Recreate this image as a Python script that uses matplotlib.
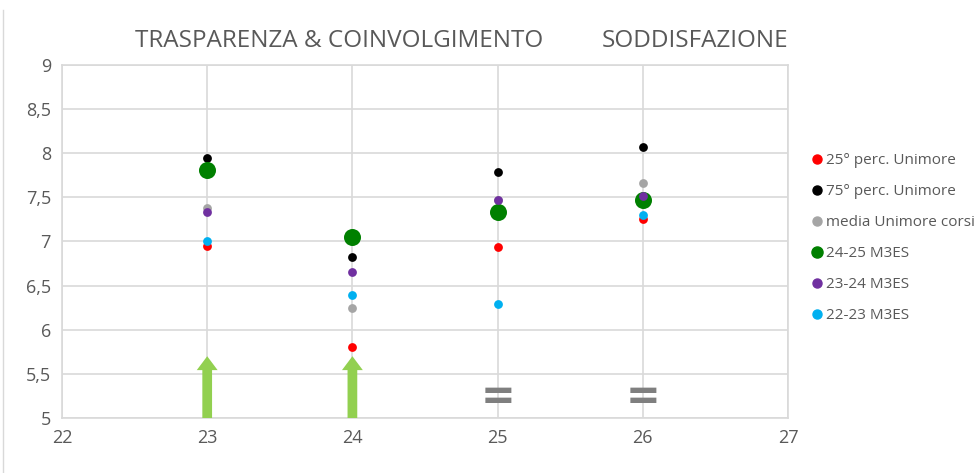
import matplotlib.pyplot as plt
from matplotlib.patches import FancyArrowPatch, ArrowStyle
from matplotlib.lines import Line2D

# data
x_vals = [23, 24, 25, 26]
p25 = [6.95, 5.81, 6.94, 7.25]
p75 = [7.95, 6.82, 7.79, 8.07]
media = [7.38, 6.25, 7.47, 7.66]
m3es_2425 = [7.81, 7.05, 7.33, 7.47]
m3es_2324 = [7.33, 6.65, 7.47, 7.52]
m3es_2223 = [7.00, 6.39, 6.29, 7.30]

labels = ['25° perc. Unimore', '75° perc. Unimore', 'media Unimore corsi',
          '24-25 M3ES', '23-24 M3ES', '22-23 M3ES']
colors = ['#ff0000', '#000000', '#a5a5a5', '#008000', '#7030a0', '#00b0f0']
sizes = [40, 40, 40, 150, 40, 40]

up_x = [23, 24]        # green arrows (improvement)
eq_x = [25, 26]        # "=" marks (stable)

text_col = '#595959'
grid_col = '#d9d9d9'

plt.rcParams['font.family'] = ['Open Sans', 'DejaVu Sans']

fig = plt.figure(figsize=(9.75, 4.73), dpi=100)
ax = fig.add_axes([62 / 975, 55 / 473, 726 / 975, 353 / 473])

series = [p25, p75, media, m3es_2425, m3es_2324, m3es_2223]
for vals, lab, c, s in zip(series, labels, colors, sizes):
    ax.scatter(x_vals, vals, s=s, color=c, label=lab, zorder=3, linewidths=0)

ax.set_xlim(22, 27)
ax.set_ylim(5, 9)
ax.set_xticks(range(22, 28))
ax.set_yticks([5, 5.5, 6, 6.5, 7, 7.5, 8, 8.5, 9])
ax.set_yticklabels(['5', '5,5', '6', '6,5', '7', '7,5', '8', '8,5', '9'])
ax.tick_params(colors=text_col, labelsize=13, length=0, pad=8)
ax.grid(True, color=grid_col, linewidth=1.2)
ax.set_axisbelow(True)
for sp in ax.spines.values():
    sp.set_color(grid_col)
    sp.set_linewidth(1.2)

# arrows
for xv in up_x:
    arr = FancyArrowPatch((xv, 5), (xv, 5.7),
                          arrowstyle=ArrowStyle.Simple(head_length=10, head_width=15, tail_width=7),
                          mutation_scale=1, shrinkA=0, shrinkB=0,
                          color='#92d050', linewidth=0, zorder=4)
    ax.add_patch(arr)

for xv in eq_x:
    ax.text(xv, 5.24, '=', ha='center', va='center', fontsize=30,
            fontweight='bold', color='#7f7f7f', family='DejaVu Sans', zorder=4)

# section headings
fig.text(339 / 975, 1 - 41 / 473, 'TRASPARENZA & COINVOLGIMENTO', ha='center',
         va='center', fontsize=17.5, color=text_col)
fig.text(695 / 975, 1 - 41 / 473, 'SODDISFAZIONE', ha='center',
         va='center', fontsize=17.5, color=text_col)

# legend
handles = [Line2D([], [], marker='o', linestyle='', color=c,
                  markersize=(8 if s > 100 else 6.5)) for c, s in zip(colors, sizes)]
leg = fig.legend(handles, labels, loc='upper left', bbox_to_anchor=(803 / 975, 1 - 147 / 473),
                 frameon=False, fontsize=11, labelcolor=text_col, handletextpad=0.1,
                 handlelength=1.0, labelspacing=1.05, borderaxespad=0)

# chart area border on the left
fig.add_artist(Line2D([3 / 975, 3 / 975], [0, 1 - 10 / 473], color=grid_col, linewidth=1))

plt.savefig('out.png', dpi=100)
